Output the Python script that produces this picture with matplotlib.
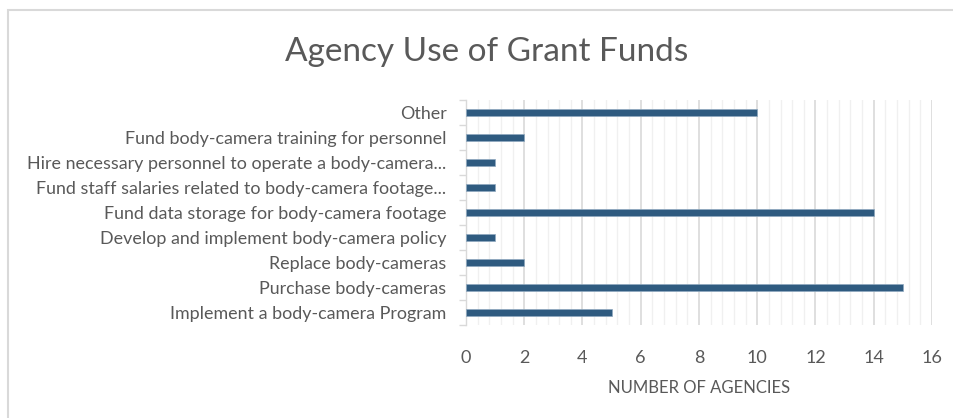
import matplotlib
matplotlib.use('Agg')
import matplotlib.pyplot as plt
import numpy
from matplotlib.patches import Rectangle

# data, bottom to top as drawn
categories = [
    'Implement a body-camera Program',
    'Purchase body-cameras',
    'Replace body-cameras',
    'Develop and implement body-camera policy',
    'Fund data storage for body-camera footage',
    'Fund staff salaries related to body-camera footage...',
    'Hire necessary personnel to operate a body-camera...',
    'Fund body-camera training for personnel',
    'Other',
]
agencies = [5, 15, 2, 1, 14, 1, 1, 2, 10]
x_ticks = [0, 2, 4, 6, 8, 10, 12, 14, 16]

plt.rcParams['font.family'] = ['Lato', 'DejaVu Sans']
text_color = '#595959'

fig = plt.figure(figsize=(9.54, 4.18), dpi=100)
ax = fig.add_axes([466 / 954., 1 - 325 / 418., (932 - 466) / 954., 225 / 418.])

y_pos = numpy.arange(len(categories))
ax.barh(y_pos, agencies, height=0.3, color='#2f5b80', edgecolor='#8fa9c0',
        linewidth=0.5, zorder=3)

ax.set_xlim(0, 16)
ax.set_ylim(-0.5, len(categories) - 0.5)
ax.set_xticks(x_ticks)
ax.set_xticks(numpy.arange(0, 16.01, 0.4), minor=True)
ax.grid(True, axis='x', which='major', color='#d9d9d9', linewidth=1.2, zorder=0)
ax.grid(True, axis='x', which='minor', color='#f0f0f0', linewidth=1.0, zorder=0)

# category ticks sit between the bars
ax.set_yticks(y_pos)
ax.set_yticklabels(categories, fontsize=12.9, color=text_color)
ax.set_yticks(numpy.arange(-0.5, len(categories), 1.0), minor=True)
ax.tick_params(axis='y', which='major', length=0, pad=14)
ax.tick_params(axis='y', which='minor', length=5, color='#d9d9d9', width=1)
ax.tick_params(axis='x', which='both', length=0, labelsize=13,
               labelcolor=text_color, pad=18)

for s in ['top', 'right', 'bottom']:
    ax.spines[s].set_visible(False)
ax.spines['left'].set_color('#d9d9d9')
ax.spines['left'].set_linewidth(1)

ax.set_xlabel('NUMBER OF AGENCIES', fontsize=12, color=text_color, labelpad=10)

fig.text(487 / 954., 1 - 52 / 418., 'Agency Use of Grant Funds', fontsize=24,
         color=text_color, ha='center', va='center')

# outer chart frame
fig.patches.append(Rectangle((8 / 954., -0.1), 1.1, 1 - 10 / 418. + 0.1,
                             transform=fig.transFigure, fill=False,
                             edgecolor='#d9d9d9', linewidth=1.5))

fig.savefig('out.png', dpi=100)
